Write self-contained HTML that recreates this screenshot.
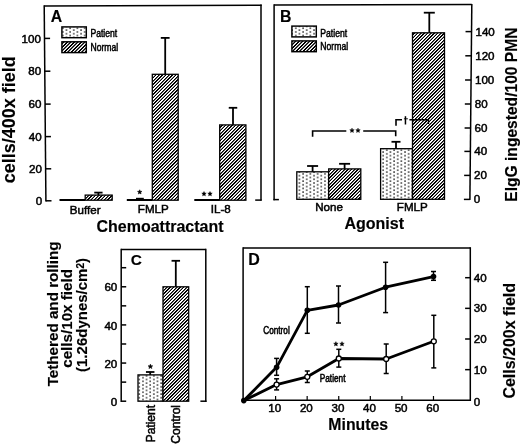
<!DOCTYPE html><html><head><meta charset="utf-8"><style>html,body{margin:0;padding:0;background:#fff;overflow:hidden;}svg{display:block;will-change:transform;}</style></head><body>
<svg width="520" height="445" viewBox="0 0 520 445" font-family='"Liberation Sans", sans-serif'>
<defs>
<pattern id="hatch" patternUnits="userSpaceOnUse" width="10" height="10"><rect width="10" height="10" fill="#fff"/><rect x="0" y="0" width="1" height="1" fill="#000000"/><rect x="3" y="0" width="1" height="1" fill="#000000"/><rect x="4" y="0" width="1" height="1" fill="#686868"/><rect x="6" y="0" width="1" height="1" fill="#000000"/><rect x="7" y="0" width="1" height="1" fill="#000000"/><rect x="9" y="0" width="1" height="1" fill="#979797"/><rect x="2" y="1" width="1" height="1" fill="#000000"/><rect x="3" y="1" width="1" height="1" fill="#686868"/><rect x="5" y="1" width="1" height="1" fill="#000000"/><rect x="6" y="1" width="1" height="1" fill="#000000"/><rect x="8" y="1" width="1" height="1" fill="#979797"/><rect x="9" y="1" width="1" height="1" fill="#000000"/><rect x="1" y="2" width="1" height="1" fill="#000000"/><rect x="2" y="2" width="1" height="1" fill="#686868"/><rect x="4" y="2" width="1" height="1" fill="#000000"/><rect x="5" y="2" width="1" height="1" fill="#000000"/><rect x="7" y="2" width="1" height="1" fill="#979797"/><rect x="8" y="2" width="1" height="1" fill="#000000"/><rect x="0" y="3" width="1" height="1" fill="#000000"/><rect x="1" y="3" width="1" height="1" fill="#686868"/><rect x="3" y="3" width="1" height="1" fill="#000000"/><rect x="4" y="3" width="1" height="1" fill="#000000"/><rect x="6" y="3" width="1" height="1" fill="#979797"/><rect x="7" y="3" width="1" height="1" fill="#000000"/><rect x="0" y="4" width="1" height="1" fill="#686868"/><rect x="2" y="4" width="1" height="1" fill="#000000"/><rect x="3" y="4" width="1" height="1" fill="#000000"/><rect x="5" y="4" width="1" height="1" fill="#979797"/><rect x="6" y="4" width="1" height="1" fill="#000000"/><rect x="9" y="4" width="1" height="1" fill="#000000"/><rect x="1" y="5" width="1" height="1" fill="#000000"/><rect x="2" y="5" width="1" height="1" fill="#000000"/><rect x="4" y="5" width="1" height="1" fill="#979797"/><rect x="5" y="5" width="1" height="1" fill="#000000"/><rect x="8" y="5" width="1" height="1" fill="#000000"/><rect x="9" y="5" width="1" height="1" fill="#686868"/><rect x="0" y="6" width="1" height="1" fill="#000000"/><rect x="1" y="6" width="1" height="1" fill="#000000"/><rect x="3" y="6" width="1" height="1" fill="#979797"/><rect x="4" y="6" width="1" height="1" fill="#000000"/><rect x="7" y="6" width="1" height="1" fill="#000000"/><rect x="8" y="6" width="1" height="1" fill="#686868"/><rect x="0" y="7" width="1" height="1" fill="#000000"/><rect x="2" y="7" width="1" height="1" fill="#979797"/><rect x="3" y="7" width="1" height="1" fill="#000000"/><rect x="6" y="7" width="1" height="1" fill="#000000"/><rect x="7" y="7" width="1" height="1" fill="#686868"/><rect x="9" y="7" width="1" height="1" fill="#000000"/><rect x="1" y="8" width="1" height="1" fill="#979797"/><rect x="2" y="8" width="1" height="1" fill="#000000"/><rect x="5" y="8" width="1" height="1" fill="#000000"/><rect x="6" y="8" width="1" height="1" fill="#686868"/><rect x="8" y="8" width="1" height="1" fill="#000000"/><rect x="9" y="8" width="1" height="1" fill="#000000"/><rect x="0" y="9" width="1" height="1" fill="#979797"/><rect x="1" y="9" width="1" height="1" fill="#000000"/><rect x="4" y="9" width="1" height="1" fill="#000000"/><rect x="5" y="9" width="1" height="1" fill="#686868"/><rect x="7" y="9" width="1" height="1" fill="#000000"/><rect x="8" y="9" width="1" height="1" fill="#000000"/></pattern>
<pattern id="lhatch" patternUnits="userSpaceOnUse" width="7" height="7"><rect width="7" height="7" fill="#fff"/><rect x="0" y="0" width="1" height="1" fill="#000000"/><rect x="1" y="0" width="1" height="1" fill="#b9b9b9"/><rect x="3" y="0" width="1" height="1" fill="#000000"/><rect x="4" y="0" width="1" height="1" fill="#000000"/><rect x="6" y="0" width="1" height="1" fill="#6c6c6c"/><rect x="0" y="1" width="1" height="1" fill="#b9b9b9"/><rect x="2" y="1" width="1" height="1" fill="#000000"/><rect x="3" y="1" width="1" height="1" fill="#000000"/><rect x="5" y="1" width="1" height="1" fill="#6c6c6c"/><rect x="6" y="1" width="1" height="1" fill="#000000"/><rect x="1" y="2" width="1" height="1" fill="#000000"/><rect x="2" y="2" width="1" height="1" fill="#000000"/><rect x="4" y="2" width="1" height="1" fill="#6c6c6c"/><rect x="5" y="2" width="1" height="1" fill="#000000"/><rect x="6" y="2" width="1" height="1" fill="#b9b9b9"/><rect x="0" y="3" width="1" height="1" fill="#000000"/><rect x="1" y="3" width="1" height="1" fill="#000000"/><rect x="3" y="3" width="1" height="1" fill="#6c6c6c"/><rect x="4" y="3" width="1" height="1" fill="#000000"/><rect x="5" y="3" width="1" height="1" fill="#b9b9b9"/><rect x="0" y="4" width="1" height="1" fill="#000000"/><rect x="2" y="4" width="1" height="1" fill="#6c6c6c"/><rect x="3" y="4" width="1" height="1" fill="#000000"/><rect x="4" y="4" width="1" height="1" fill="#b9b9b9"/><rect x="6" y="4" width="1" height="1" fill="#000000"/><rect x="1" y="5" width="1" height="1" fill="#6c6c6c"/><rect x="2" y="5" width="1" height="1" fill="#000000"/><rect x="3" y="5" width="1" height="1" fill="#b9b9b9"/><rect x="5" y="5" width="1" height="1" fill="#000000"/><rect x="6" y="5" width="1" height="1" fill="#000000"/><rect x="0" y="6" width="1" height="1" fill="#6c6c6c"/><rect x="1" y="6" width="1" height="1" fill="#000000"/><rect x="2" y="6" width="1" height="1" fill="#b9b9b9"/><rect x="4" y="6" width="1" height="1" fill="#000000"/><rect x="5" y="6" width="1" height="1" fill="#000000"/></pattern>
<pattern id="dots" patternUnits="userSpaceOnUse" width="7.28" height="3.64"><rect width="7.28" height="3.64" fill="#fff"/><rect x="0.3" y="0.3" width="1.35" height="1.35" fill="#000"/><rect x="3.94" y="2.12" width="1.35" height="1.35" fill="#000"/></pattern>
</defs>
<rect width="520" height="445" fill="#fff"/>
<g stroke="#000" fill="none">
<line x1="44.2" y1="5.9" x2="261.7" y2="5.3" stroke-width="1.5"/>
<line x1="44.2" y1="5.2" x2="45.91" y2="201.5" stroke-width="1.5"/>
<line x1="261" y1="4.6" x2="261" y2="200.5" stroke-width="1.5"/>
<line x1="255.2" y1="200.1" x2="261.7" y2="200.1" stroke-width="1.5"/>
<line x1="45.9" y1="200.8" x2="51.5" y2="200.8" stroke-width="1.5"/>
<line x1="45.62" y1="168.8" x2="51.22" y2="168.8" stroke-width="1.5"/>
<line x1="45.34" y1="136.6" x2="50.94" y2="136.6" stroke-width="1.5"/>
<line x1="45.06" y1="104.1" x2="50.66" y2="104.1" stroke-width="1.5"/>
<line x1="44.77" y1="71.2" x2="50.37" y2="71.2" stroke-width="1.5"/>
<line x1="44.49" y1="38.4" x2="50.09" y2="38.4" stroke-width="1.5"/>
</g>
<rect x="85.2" y="195.1" width="27.0" height="5.1" fill="url(#hatch)" stroke="#000" stroke-width="1.3"/>
<rect x="152.3" y="74.3" width="25.9" height="125.9" fill="url(#hatch)" stroke="#000" stroke-width="1.3"/>
<rect x="219.7" y="124.9" width="26.2" height="75.3" fill="url(#hatch)" stroke="#000" stroke-width="1.3"/>
<g stroke="#000" fill="none">
<line x1="98.4" y1="192.6" x2="98.4" y2="195.1" stroke-width="1.8"/>
<line x1="94.25" y1="192.6" x2="102.55" y2="192.6" stroke-width="1.8"/>
<line x1="59.5" y1="200" x2="85.2" y2="200" stroke-width="2"/>
<line x1="165.2" y1="37.9" x2="165.2" y2="74.3" stroke-width="1.8"/>
<line x1="160.8" y1="37.9" x2="169.6" y2="37.9" stroke-width="1.8"/>
<line x1="126.8" y1="200" x2="152.3" y2="200" stroke-width="2"/>
<line x1="233" y1="107.8" x2="233" y2="124.9" stroke-width="1.8"/>
<line x1="228.75" y1="107.8" x2="237.25" y2="107.8" stroke-width="1.8"/>
<line x1="194.3" y1="200" x2="219.7" y2="200" stroke-width="2"/>
<line x1="136" y1="198.5" x2="143.8" y2="198.5" stroke-width="1.4"/>
</g>
<polygon points="139.7,189.75 140.32,191.25 141.93,191.37 140.7,192.42 141.08,194.0 139.7,193.15 138.32,194.0 138.7,192.42 137.47,191.37 139.08,191.25" fill="#000" stroke="#000" stroke-width="0.5" stroke-linejoin="round"/>
<polygon points="204.0,191.55 204.62,193.05 206.23,193.17 205.0,194.22 205.38,195.8 204.0,194.95 202.62,195.8 203.0,194.22 201.77,193.17 203.38,193.05" fill="#000" stroke="#000" stroke-width="0.5" stroke-linejoin="round"/>
<polygon points="210.0,191.55 210.62,193.05 212.23,193.17 211.0,194.22 211.38,195.8 210.0,194.95 208.62,195.8 209.0,194.22 207.77,193.17 209.38,193.05" fill="#000" stroke="#000" stroke-width="0.5" stroke-linejoin="round"/>
<g fill="#000">
<text transform="translate(42.3,204.9)" font-size="11.6" font-weight="normal" text-anchor="end" stroke="#000" stroke-width="0.5" >0</text>
<text transform="translate(42.02,172.9)" font-size="11.6" font-weight="normal" text-anchor="end" stroke="#000" stroke-width="0.5" >20</text>
<text transform="translate(41.74,140.7)" font-size="11.6" font-weight="normal" text-anchor="end" stroke="#000" stroke-width="0.5" >40</text>
<text transform="translate(41.46,108.2)" font-size="11.6" font-weight="normal" text-anchor="end" stroke="#000" stroke-width="0.5" >60</text>
<text transform="translate(41.17,75.3)" font-size="11.6" font-weight="normal" text-anchor="end" stroke="#000" stroke-width="0.5" >80</text>
<text transform="translate(40.89,42.5)" font-size="11.6" font-weight="normal" text-anchor="end" stroke="#000" stroke-width="0.5" >100</text>
<text transform="translate(50.8,22.2)" font-size="15.8" font-weight="bold" text-anchor="start" stroke="#000" stroke-width="0.15" >A</text>
<text transform="translate(85.2,214)" font-size="11.6" font-weight="normal" text-anchor="middle" stroke="#000" stroke-width="0.5" >Buffer</text>
<text transform="translate(153.3,213.2)" font-size="11.6" font-weight="normal" text-anchor="middle" stroke="#000" stroke-width="0.5" >FMLP</text>
<text transform="translate(220.8,213.2)" font-size="11.6" font-weight="normal" text-anchor="middle" stroke="#000" stroke-width="0.5" >IL-8</text>
<text transform="translate(160,232)" font-size="16" font-weight="bold" text-anchor="middle" stroke="#000" stroke-width="0.15" >Chemoattractant</text>
<text transform="translate(15,119.8) rotate(-90)" font-size="18" font-weight="bold" text-anchor="middle" stroke="#000" stroke-width="0.15" >cells/400x field</text>
</g>
<rect x="61.9" y="26.9" width="24.4" height="10.8" fill="url(#dots)" stroke="#000" stroke-width="1.45"/>
<rect x="61.9" y="41.8" width="24.4" height="10.8" fill="url(#lhatch)" stroke="#000" stroke-width="1.45"/>
<g fill="#000">
<text transform="translate(90.4,37.4) scale(0.83,1)" font-size="10.4" font-weight="normal" text-anchor="start" stroke="#000" stroke-width="0.5" >Patient</text>
<text transform="translate(90.4,51.3) scale(0.83,1)" font-size="10.4" font-weight="normal" text-anchor="start" stroke="#000" stroke-width="0.5" >Normal</text>
</g>
<g stroke="#000" fill="none">
<line x1="274.1" y1="5.0" x2="471.8" y2="4.6" stroke-width="1.5"/>
<line x1="274.1" y1="4.3" x2="274.1" y2="200.3" stroke-width="1.5"/>
<line x1="471.81" y1="3.9" x2="469.9" y2="199.9" stroke-width="1.5"/>
<line x1="273.4" y1="199.6" x2="278.9" y2="199.6" stroke-width="1.5"/>
<line x1="463.9" y1="199.4" x2="469.9" y2="199.4" stroke-width="1.5"/>
<line x1="464.13" y1="175.4" x2="470.13" y2="175.4" stroke-width="1.5"/>
<line x1="464.37" y1="151.4" x2="470.37" y2="151.4" stroke-width="1.5"/>
<line x1="464.6" y1="128" x2="470.6" y2="128" stroke-width="1.5"/>
<line x1="464.83" y1="104" x2="470.83" y2="104" stroke-width="1.5"/>
<line x1="465.06" y1="80" x2="471.06" y2="80" stroke-width="1.5"/>
<line x1="465.3" y1="55.8" x2="471.3" y2="55.8" stroke-width="1.5"/>
<line x1="465.54" y1="31.6" x2="471.54" y2="31.6" stroke-width="1.5"/>
</g>
<rect x="296.8" y="171.8" width="31.9" height="27.5" fill="url(#dots)" stroke="#000" stroke-width="1.3"/>
<rect x="328.7" y="168.9" width="32.1" height="30.4" fill="url(#hatch)" stroke="#000" stroke-width="1.3"/>
<rect x="380.6" y="148.7" width="31.9" height="50.6" fill="url(#dots)" stroke="#000" stroke-width="1.3"/>
<rect x="412.5" y="32.8" width="32.0" height="166.5" fill="url(#hatch)" stroke="#000" stroke-width="1.3"/>
<g stroke="#000" fill="none">
<line x1="312.6" y1="166" x2="312.6" y2="171.8" stroke-width="1.8"/>
<line x1="307.1" y1="166" x2="318.1" y2="166" stroke-width="1.8"/>
<line x1="344.6" y1="163.8" x2="344.6" y2="168.9" stroke-width="1.8"/>
<line x1="339.1" y1="163.8" x2="350.1" y2="163.8" stroke-width="1.8"/>
<line x1="396" y1="141.8" x2="396" y2="148.7" stroke-width="1.8"/>
<line x1="391.5" y1="141.8" x2="400.5" y2="141.8" stroke-width="1.8"/>
<line x1="429.3" y1="12.7" x2="429.3" y2="32.8" stroke-width="1.8"/>
<line x1="423.8" y1="12.7" x2="434.8" y2="12.7" stroke-width="1.8"/>
<polyline points="312.6,136.8 312.6,131 346.3,131" stroke-width="1.6"/>
<polyline points="363.2,131 395.7,131 395.7,136.2" stroke-width="1.6"/>
<polyline points="396,125.8 396,119.7 402,119.7" stroke-width="1.6"/>
<polyline points="409.4,119.7 428.5,119.7 428.5,124" stroke-width="1.4"/>
<path d="M405.45,116.2 L405.45,124.5" stroke-width="1.5"/>
<path d="M403.9,118.8 L407.9,118.8" stroke-width="0.9"/>
</g>
<polygon points="352.0,128.15 352.62,129.65 354.23,129.77 353.0,130.82 353.38,132.4 352.0,131.55 350.62,132.4 351.0,130.82 349.77,129.77 351.38,129.65" fill="#000" stroke="#000" stroke-width="0.5" stroke-linejoin="round"/>
<polygon points="358.0,128.15 358.62,129.65 360.23,129.77 359.0,130.82 359.38,132.4 358.0,131.55 356.62,132.4 357.0,130.82 355.77,129.77 357.38,129.65" fill="#000" stroke="#000" stroke-width="0.5" stroke-linejoin="round"/>
<g fill="#000">
<text transform="translate(473.8,202.7)" font-size="11.6" font-weight="normal" text-anchor="start" stroke="#000" stroke-width="0.5" >0</text>
<text transform="translate(474.03,178.81)" font-size="11.6" font-weight="normal" text-anchor="start" stroke="#000" stroke-width="0.5" >20</text>
<text transform="translate(474.27,154.93)" font-size="11.6" font-weight="normal" text-anchor="start" stroke="#000" stroke-width="0.5" >40</text>
<text transform="translate(474.5,131.64)" font-size="11.6" font-weight="normal" text-anchor="start" stroke="#000" stroke-width="0.5" >60</text>
<text transform="translate(474.73,107.76)" font-size="11.6" font-weight="normal" text-anchor="start" stroke="#000" stroke-width="0.5" >80</text>
<text transform="translate(474.96,83.87)" font-size="11.6" font-weight="normal" text-anchor="start" stroke="#000" stroke-width="0.5" >100</text>
<text transform="translate(475.2,59.79)" font-size="11.6" font-weight="normal" text-anchor="start" stroke="#000" stroke-width="0.5" >120</text>
<text transform="translate(475.44,35.7)" font-size="11.6" font-weight="normal" text-anchor="start" stroke="#000" stroke-width="0.5" >140</text>
<text transform="translate(280,22.2)" font-size="15.8" font-weight="bold" text-anchor="start" stroke="#000" stroke-width="0.15" >B</text>
<text transform="translate(329,211.4)" font-size="11.6" font-weight="normal" text-anchor="middle" stroke="#000" stroke-width="0.5" >None</text>
<text transform="translate(412.3,210.6)" font-size="11.6" font-weight="normal" text-anchor="middle" stroke="#000" stroke-width="0.5" >FMLP</text>
<text transform="translate(374.2,228.6)" font-size="16" font-weight="bold" text-anchor="middle" stroke="#000" stroke-width="0.15" >Agonist</text>
<text transform="translate(516.9,114.6) rotate(-90)" font-size="15.6" font-weight="bold" text-anchor="middle" stroke="#000" stroke-width="0.15" >EIgG ingested/100 PMN</text>
</g>
<rect x="291.9" y="26.1" width="24.4" height="10.8" fill="url(#dots)" stroke="#000" stroke-width="1.45"/>
<rect x="291.9" y="40.9" width="24.4" height="10.8" fill="url(#lhatch)" stroke="#000" stroke-width="1.45"/>
<g fill="#000">
<text transform="translate(320.3,36.9) scale(0.83,1)" font-size="10.4" font-weight="normal" text-anchor="start" stroke="#000" stroke-width="0.5" >Patient</text>
<text transform="translate(320.3,50.4) scale(0.83,1)" font-size="10.4" font-weight="normal" text-anchor="start" stroke="#000" stroke-width="0.5" >Normal</text>
</g>
<g stroke="#000" fill="none">
<line x1="121.2" y1="249.4" x2="205.8" y2="249.4" stroke-width="1.5"/>
<line x1="121.2" y1="248.7" x2="121.2" y2="401.9" stroke-width="1.5"/>
<line x1="205.8" y1="248.7" x2="205.8" y2="401.9" stroke-width="1.5"/>
<line x1="200.4" y1="401.2" x2="206.5" y2="401.2" stroke-width="1.5"/>
<line x1="121.2" y1="401.2" x2="126.2" y2="401.2" stroke-width="1.5"/>
<line x1="121.2" y1="382.13" x2="126.2" y2="382.13" stroke-width="1.5"/>
<line x1="121.2" y1="363.06" x2="126.2" y2="363.06" stroke-width="1.5"/>
<line x1="121.2" y1="343.99" x2="126.2" y2="343.99" stroke-width="1.5"/>
<line x1="121.2" y1="324.92" x2="126.2" y2="324.92" stroke-width="1.5"/>
<line x1="121.2" y1="305.85" x2="126.2" y2="305.85" stroke-width="1.5"/>
<line x1="121.2" y1="286.78" x2="126.2" y2="286.78" stroke-width="1.5"/>
<line x1="121.2" y1="267.71" x2="126.2" y2="267.71" stroke-width="1.5"/>
</g>
<rect x="138" y="374.9" width="25" height="26.3" fill="url(#dots)" stroke="#000" stroke-width="1.3"/>
<rect x="163" y="286.8" width="25.7" height="114.4" fill="url(#hatch)" stroke="#000" stroke-width="1.3"/>
<g stroke="#000" fill="none">
<line x1="150.2" y1="372" x2="150.2" y2="374.9" stroke-width="1.8"/>
<line x1="145.95" y1="372" x2="154.45" y2="372" stroke-width="1.8"/>
<line x1="175.8" y1="260.8" x2="175.8" y2="286.8" stroke-width="1.8"/>
<line x1="171.55" y1="260.8" x2="180.05" y2="260.8" stroke-width="1.8"/>
</g>
<polygon points="150.4,364.1 151.05,365.71 152.78,365.83 151.45,366.94 151.87,368.62 150.4,367.7 148.93,368.62 149.35,366.94 148.02,365.83 149.75,365.71" fill="#000" stroke="#000" stroke-width="0.5" stroke-linejoin="round"/>
<g fill="#000">
<text transform="translate(117.3,405.9)" font-size="11.6" font-weight="normal" text-anchor="end" stroke="#000" stroke-width="0.5" >0</text>
<text transform="translate(117.3,367.76)" font-size="11.6" font-weight="normal" text-anchor="end" stroke="#000" stroke-width="0.5" >20</text>
<text transform="translate(117.3,329.62)" font-size="11.6" font-weight="normal" text-anchor="end" stroke="#000" stroke-width="0.5" >40</text>
<text transform="translate(117.3,291.48)" font-size="11.6" font-weight="normal" text-anchor="end" stroke="#000" stroke-width="0.5" >60</text>
<text transform="translate(130.8,265.2)" font-size="15.5" font-weight="bold" text-anchor="start" stroke="#000" stroke-width="0.15" >C</text>
<text transform="translate(155.2,405) rotate(-90)" font-size="12" font-weight="normal" text-anchor="end" stroke="#000" stroke-width="0.5" >Patient</text>
<text transform="translate(180,405) rotate(-90)" font-size="12" font-weight="normal" text-anchor="end" stroke="#000" stroke-width="0.5" >Control</text>
<text transform="translate(57.5,313.9) rotate(-90)" font-size="15.2" font-weight="bold" text-anchor="middle" stroke="#000" stroke-width="0.15" >Tethered and rolling</text>
<text transform="translate(72.4,318.4) rotate(-90)" font-size="15.2" font-weight="bold" text-anchor="middle" stroke="#000" stroke-width="0.15" >cells/10x field</text>
<text transform="translate(87.2,315) rotate(-90)" font-size="15" font-weight="bold" text-anchor="middle" stroke="#000" stroke-width="0.15" >(1.26dynes/cm<tspan font-size="10" dy="-3.2">2</tspan><tspan dy="3.2">)</tspan></text>
</g>
<g stroke="#000" fill="none">
<line x1="243.1" y1="247.9" x2="470.3" y2="247.9" stroke-width="1.5"/>
<line x1="243.1" y1="247.2" x2="243.1" y2="401.0" stroke-width="1.5"/>
<line x1="470.3" y1="247.2" x2="470.3" y2="401.0" stroke-width="1.5"/>
<line x1="243.1" y1="400.3" x2="470.3" y2="400.3" stroke-width="1.5"/>
<line x1="275.58" y1="400.3" x2="275.58" y2="396.0" stroke-width="1.2"/>
<line x1="307.16" y1="400.3" x2="307.16" y2="396.0" stroke-width="1.2"/>
<line x1="338.74" y1="400.3" x2="338.74" y2="396.0" stroke-width="1.2"/>
<line x1="370.32" y1="400.3" x2="370.32" y2="396.0" stroke-width="1.2"/>
<line x1="401.9" y1="400.3" x2="401.9" y2="396.0" stroke-width="1.2"/>
<line x1="433.48" y1="400.3" x2="433.48" y2="396.0" stroke-width="1.2"/>
<line x1="465.1" y1="369.65" x2="470.3" y2="369.65" stroke-width="1.5"/>
<line x1="465.1" y1="339.0" x2="470.3" y2="339.0" stroke-width="1.5"/>
<line x1="465.1" y1="308.35" x2="470.3" y2="308.35" stroke-width="1.5"/>
<line x1="465.1" y1="277.7" x2="470.3" y2="277.7" stroke-width="1.5"/>
</g>
<g stroke="#000" fill="none">
<line x1="276.6" y1="358.4" x2="276.6" y2="375.3" stroke-width="1.5"/>
<line x1="274.1" y1="358.4" x2="279.1" y2="358.4" stroke-width="1.5"/>
<line x1="274.1" y1="375.3" x2="279.1" y2="375.3" stroke-width="1.5"/>
<line x1="307.3" y1="286.7" x2="307.3" y2="333.3" stroke-width="1.5"/>
<line x1="304.8" y1="286.7" x2="309.8" y2="286.7" stroke-width="1.5"/>
<line x1="304.8" y1="333.3" x2="309.8" y2="333.3" stroke-width="1.5"/>
<line x1="338.5" y1="286" x2="338.5" y2="323" stroke-width="1.5"/>
<line x1="336.0" y1="286" x2="341.0" y2="286" stroke-width="1.5"/>
<line x1="336.0" y1="323" x2="341.0" y2="323" stroke-width="1.5"/>
<line x1="385.6" y1="262.3" x2="385.6" y2="312.6" stroke-width="1.5"/>
<line x1="383.1" y1="262.3" x2="388.1" y2="262.3" stroke-width="1.5"/>
<line x1="383.1" y1="312.6" x2="388.1" y2="312.6" stroke-width="1.5"/>
<line x1="433.5" y1="271.5" x2="433.5" y2="280.3" stroke-width="1.5"/>
<line x1="431.0" y1="271.5" x2="436.0" y2="271.5" stroke-width="1.5"/>
<line x1="431.0" y1="280.3" x2="436.0" y2="280.3" stroke-width="1.5"/>
<polyline points="243.8,400.6 276.6,367.3 307.3,310.3 338.5,305 385.6,287.2 433.5,276.6" stroke-width="2.8" stroke-linejoin="round"/>
<line x1="276.6" y1="378.8" x2="276.6" y2="389.9" stroke-width="1.5"/>
<line x1="274.1" y1="378.8" x2="279.1" y2="378.8" stroke-width="1.5"/>
<line x1="274.1" y1="389.9" x2="279.1" y2="389.9" stroke-width="1.5"/>
<line x1="307.3" y1="371" x2="307.3" y2="382.5" stroke-width="1.5"/>
<line x1="304.8" y1="371" x2="309.8" y2="371" stroke-width="1.5"/>
<line x1="304.8" y1="382.5" x2="309.8" y2="382.5" stroke-width="1.5"/>
<line x1="338.8" y1="349.3" x2="338.8" y2="367.1" stroke-width="1.5"/>
<line x1="336.3" y1="349.3" x2="341.3" y2="349.3" stroke-width="1.5"/>
<line x1="336.3" y1="367.1" x2="341.3" y2="367.1" stroke-width="1.5"/>
<line x1="386.2" y1="344" x2="386.2" y2="373.5" stroke-width="1.5"/>
<line x1="383.7" y1="344" x2="388.7" y2="344" stroke-width="1.5"/>
<line x1="383.7" y1="373.5" x2="388.7" y2="373.5" stroke-width="1.5"/>
<line x1="433.8" y1="315.3" x2="433.8" y2="367.9" stroke-width="1.5"/>
<line x1="431.3" y1="315.3" x2="436.3" y2="315.3" stroke-width="1.5"/>
<line x1="431.3" y1="367.9" x2="436.3" y2="367.9" stroke-width="1.5"/>
<polyline points="243.8,400.6 276.6,384.6 307.3,376.8 338.8,358.5 386.2,359 433.8,341.3" stroke-width="2.8" stroke-linejoin="round"/>
</g>
<g fill="#000">
<circle cx="243.8" cy="400.6" r="2.8"/>
<circle cx="276.6" cy="367.3" r="2.8"/>
<circle cx="307.3" cy="310.3" r="2.8"/>
<circle cx="338.5" cy="305" r="2.8"/>
<circle cx="385.6" cy="287.2" r="2.8"/>
<circle cx="433.5" cy="276.6" r="2.8"/>
</g><g fill="#fff" stroke="#000" stroke-width="1.3">
<circle cx="276.6" cy="384.6" r="2.5"/>
<circle cx="307.3" cy="376.8" r="2.5"/>
<circle cx="338.8" cy="358.5" r="2.5"/>
<circle cx="386.2" cy="359" r="2.5"/>
<circle cx="433.8" cy="341.3" r="2.5"/>
</g>
<polygon points="335.9,341.65 336.52,343.15 338.13,343.27 336.9,344.32 337.28,345.9 335.9,345.05 334.52,345.9 334.9,344.32 333.67,343.27 335.28,343.15" fill="#000" stroke="#000" stroke-width="0.5" stroke-linejoin="round"/>
<polygon points="342.0,341.65 342.62,343.15 344.23,343.27 343.0,344.32 343.38,345.9 342.0,345.05 340.62,345.9 341.0,344.32 339.77,343.27 341.38,343.15" fill="#000" stroke="#000" stroke-width="0.5" stroke-linejoin="round"/>
<g fill="#000">
<text transform="translate(274.78,412)" font-size="11.6" font-weight="normal" text-anchor="middle" stroke="#000" stroke-width="0.5" >10</text>
<text transform="translate(306.36,412)" font-size="11.6" font-weight="normal" text-anchor="middle" stroke="#000" stroke-width="0.5" >20</text>
<text transform="translate(337.94,412)" font-size="11.6" font-weight="normal" text-anchor="middle" stroke="#000" stroke-width="0.5" >30</text>
<text transform="translate(369.52,412)" font-size="11.6" font-weight="normal" text-anchor="middle" stroke="#000" stroke-width="0.5" >40</text>
<text transform="translate(401.1,412)" font-size="11.6" font-weight="normal" text-anchor="middle" stroke="#000" stroke-width="0.5" >50</text>
<text transform="translate(432.68,412)" font-size="11.6" font-weight="normal" text-anchor="middle" stroke="#000" stroke-width="0.5" >60</text>
<text transform="translate(473.8,405.9)" font-size="11.6" font-weight="normal" text-anchor="start" stroke="#000" stroke-width="0.5" >0</text>
<text transform="translate(473.8,373.75)" font-size="11.6" font-weight="normal" text-anchor="start" stroke="#000" stroke-width="0.5" >10</text>
<text transform="translate(473.8,343.1)" font-size="11.6" font-weight="normal" text-anchor="start" stroke="#000" stroke-width="0.5" >20</text>
<text transform="translate(473.8,312.45)" font-size="11.6" font-weight="normal" text-anchor="start" stroke="#000" stroke-width="0.5" >30</text>
<text transform="translate(473.8,281.8)" font-size="11.6" font-weight="normal" text-anchor="start" stroke="#000" stroke-width="0.5" >40</text>
<text transform="translate(248.3,264.6)" font-size="16" font-weight="bold" text-anchor="start" stroke="#000" stroke-width="0.15" >D</text>
<text transform="translate(358.2,429.8)" font-size="15.8" font-weight="bold" text-anchor="middle" stroke="#000" stroke-width="0.15" >Minutes</text>
<text transform="translate(515.3,340.8) rotate(-90)" font-size="16" font-weight="bold" text-anchor="middle" stroke="#000" stroke-width="0.15" >Cells/200x field</text>
<text transform="translate(263.2,334.2) scale(0.8,1)" font-size="10.3" font-weight="normal" text-anchor="start" stroke="#000" stroke-width="0.55" >Control</text>
<text transform="translate(319.8,381.5) scale(0.8,1)" font-size="10.3" font-weight="normal" text-anchor="start" stroke="#000" stroke-width="0.55" >Patient</text>
</g>
</svg></body></html>
